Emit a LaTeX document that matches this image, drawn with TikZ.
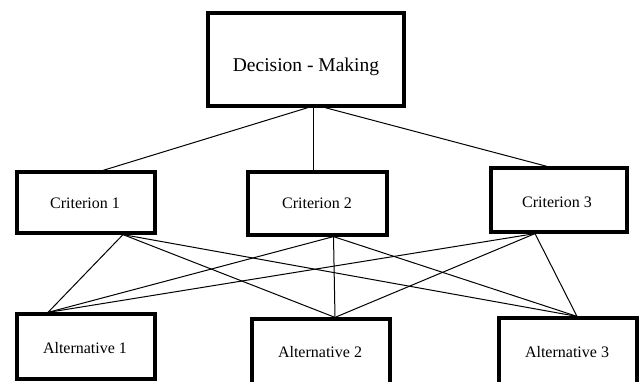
\documentclass[tikz,border=0pt]{standalone}
\usepackage{fontspec}
\setmainfont{Liberation Serif}
\begin{document}
\begin{tikzpicture}[x=1pt,y=1pt,
  boxstyle/.style={draw=black,line width=3.2pt,fill=white,inner sep=0pt},
  txtstyle/.style={inner sep=0pt,font=\fontsize{16}{18}\selectfont},
  link/.style={draw=black,line width=1pt}]
\useasboundingbox (0,0) rectangle (641,381);
\clip (0,0) rectangle (641,381);
% top box
\node[boxstyle,minimum width=196pt,minimum height=93pt] (dm) at (306,321.5) {};
\node[inner sep=0pt,font=\fontsize{19.5}{22}\selectfont] (dmtext) at (306,314) {Decision - Making};
% criteria
\node[boxstyle,minimum width=138pt,minimum height=61pt] (c1) at (86,178.5) {};
\node[txtstyle] (c1t) at (85,178) {Criterion 1};
\node[boxstyle,minimum width=139pt,minimum height=63pt] (c2) at (317.5,177.5) {};
\node[txtstyle] (c2t) at (317,178) {Criterion 2};
\node[boxstyle,minimum width=136pt,minimum height=64pt] (c3) at (559,181) {};
\node[txtstyle] (c3t) at (557,179) {Criterion 3};
% alternatives
\node[boxstyle,minimum width=138pt,minimum height=65pt] (a1) at (86,34.5) {};
\node[txtstyle] (a1t) at (85,33) {Alternative 1};
\node[boxstyle,minimum width=138pt,minimum height=66pt] (a2) at (321,29) {};
\node[txtstyle] (a2t) at (320,29) {Alternative 2};
\node[boxstyle,minimum width=138pt,minimum height=66pt] (a3) at (568,30) {};
\node[txtstyle] (a3t) at (567,29) {Alternative 3};
% connection points
\coordinate (dmL) at ([xshift=2pt]dm.south);
\coordinate (dmM) at ([xshift=7pt]dm.south);
\coordinate (dmR) at ([xshift=19pt]dm.south);
\coordinate (c1t0) at ([xshift=17pt]c1.north);
\coordinate (c2t0) at ([xshift=-4.5pt]c2.north);
\coordinate (c3t0) at ([xshift=-12pt]c3.north);
\coordinate (c1b) at ([xshift=37pt]c1.south);
\coordinate (c2b) at ([xshift=16pt]c2.south);
\coordinate (c3b) at ([xshift=-24pt]c3.south);
\coordinate (a1t0) at ([xshift=-38pt]a1.north);
\coordinate (a2t0) at ([xshift=14pt]a2.north);
\coordinate (a3t0) at ([xshift=9pt]a3.north);
% links
\draw[link] (dmL) -- (c1t0);
\draw[link] (dmM) -- (c2t0);
\draw[link] (dmR) -- (c3t0);
\foreach \c in {c1b,c2b,c3b}{
  \foreach \a in {a1t0,a2t0,a3t0}{
    \draw[link] (\c) -- (\a);
  }
}
\end{tikzpicture}
\end{document}
